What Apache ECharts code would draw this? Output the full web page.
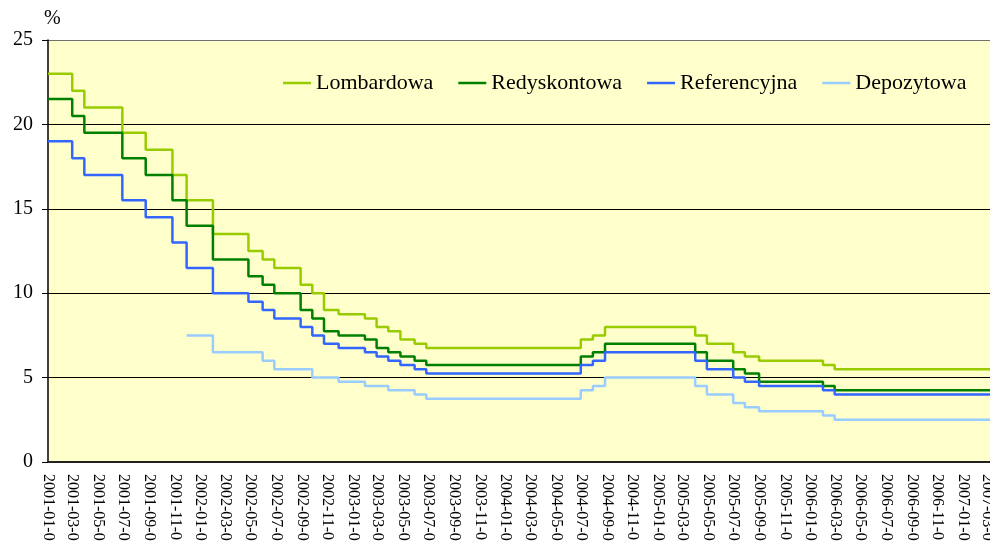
<!DOCTYPE html>
<html>
<head>
<meta charset="utf-8">
<script src="https://cdn.jsdelivr.net/npm/echarts@6/dist/echarts.min.js"></script>
<style>
    html, body { margin: 0; padding: 0; background: #fff; }
    #chart { width: 990px; height: 544px; }
</style>
</head>
<body>
<div id="chart"></div>
<script>
// daty zmian stóp (ostatnia = koniec wykresu)
var changeDates = [
    '2001-01-01', '2001-02-28', '2001-03-29', '2001-06-28', '2001-08-23', '2001-10-26',
    '2001-11-29', '2002-01-31', '2002-04-26', '2002-05-30', '2002-06-27', '2002-08-29',
    '2002-09-26', '2002-10-24', '2002-11-28', '2003-01-30', '2003-02-27', '2003-03-27',
    '2003-04-25', '2003-05-29', '2003-06-26', '2004-06-30', '2004-07-29', '2004-08-27',
    '2005-03-31', '2005-04-28', '2005-06-30', '2005-07-28', '2005-08-31', '2006-01-31',
    '2006-02-28', '2007-03-31'
]
var lombardowa = [23, 22, 21, 19.5, 18.5, 17, 15.5, 13.5, 12.5, 12, 11.5, 10.5, 10, 9, 8.75, 8.5,
    8, 7.75, 7.25, 7, 6.75, 7.25, 7.5, 8, 7.5, 7, 6.5, 6.25, 6, 5.75, 5.5, 5.5]
var redyskontowa = [21.5, 20.5, 19.5, 18, 17, 15.5, 14, 12, 11, 10.5, 10, 9, 8.5, 7.75, 7.5, 7.25,
    6.75, 6.5, 6.25, 6, 5.75, 6.25, 6.5, 7, 6.5, 6, 5.5, 5.25, 4.75, 4.5, 4.25, 4.25]
var referencyjna = [19, 18, 17, 15.5, 14.5, 13, 11.5, 10, 9.5, 9, 8.5, 8, 7.5, 7, 6.75, 6.5,
    6.25, 6, 5.75, 5.5, 5.25, 5.75, 6, 6.5, 6, 5.5, 5, 4.75, 4.5, 4.25, 4, 4]
// stopa depozytowa od grudnia 2001
var depozytowa = [null, null, null, null, null, null, 7.5, 6.5, 6.5, 6, 5.5, 5.5, 5, 5, 4.75, 4.5,
    4.5, 4.25, 4.25, 4, 3.75, 4.25, 4.5, 5, 4.5, 4, 3.5, 3.25, 3, 2.75, 2.5, 2.5]
var seriesNames = ['Lombardowa', 'Redyskontowa', 'Referencyjna', 'Depozytowa']
var seriesColors = ['#99CC00', '#008000', '#3366FF', '#99CCFF']
var yTicks = [0, 5, 10, 15, 20, 25]

var DAY = 86400000
var xMin = Date.UTC(2001, 0, 1)
var xMax = xMin + 2256 * DAY

// etykiety osi X co 2 miesiące
var tickValues = []
for (var m = 0; m <= 74; m += 2) {
    tickValues.push(Date.UTC(2001, m, 1))
}

function pad(n) {
    return n < 10 ? '0' + n : '' + n
}

function toPoints(values) {
    return values.map(function(v, i) {
        return [new Date(changeDates[i]).getTime(), v]
    })
}

var allValues = [lombardowa, redyskontowa, referencyjna, depozytowa]
var series = allValues.map(function(vals, i) {
    return {
        name: seriesNames[i],
        type: 'line',
        step: 'end',
        symbol: 'none',
        connectNulls: false,
        data: toPoints(vals),
        lineStyle: { color: seriesColors[i], width: 2.5 },
        itemStyle: { color: seriesColors[i] }
    }
})

var font = 'Liberation Serif'
var myChart = echarts.init(document.getElementById('chart'))
var option = {
    animation: false,
    textStyle: { fontFamily: font },
    grid: {
        left: 48,
        right: 0,
        top: 40,
        bottom: 82,
        outerBoundsMode: 'none',
        show: true,
        backgroundColor: '#FFFFCC',
        borderWidth: 0
    },
    legend: {
        data: seriesNames,
        icon: 'rect',
        left: 283,
        top: 72,
        padding: 0,
        itemWidth: 28,
        itemHeight: 2.5,
        itemGap: 25,
        textStyle: { fontFamily: font, fontSize: 22, color: '#000' }
    },
    graphic: [{
        type: 'text',
        left: 44,
        top: 9,
        style: { text: '%', font: '20px "Liberation Serif"', fill: '#000' }
    }],
    xAxis: {
        type: 'value',
        min: xMin,
        max: xMax,
        axisLine: { show: true, lineStyle: { color: '#222', width: 2 } },
        axisTick: { show: false },
        splitLine: { show: false },
        axisLabel: {
            customValues: tickValues,
            rotate: -90,
            margin: 12,
            fontFamily: font,
            fontSize: 16,
            color: '#000',
            formatter: function(v) {
                var d = new Date(v)
                return d.getUTCFullYear() + '-' + pad(d.getUTCMonth() + 1) + '-0'
            }
        }
    },
    yAxis: {
        type: 'value',
        min: yTicks[0],
        max: yTicks[yTicks.length - 1],
        interval: 5,
        axisLine: { show: true, lineStyle: { color: '#000', width: 1.5 } },
        axisTick: { show: true, length: 6, lineStyle: { color: '#000' } },
        axisLabel: { margin: 15, fontFamily: font, fontSize: 20, color: '#000' },
        splitLine: {
            show: true,
            lineStyle: { color: ['#000', '#000', '#000', '#000', '#000', '#707070'], width: 1 }
        }
    },
    series: series
}
myChart.setOption(option)
</script>
</body>
</html>
